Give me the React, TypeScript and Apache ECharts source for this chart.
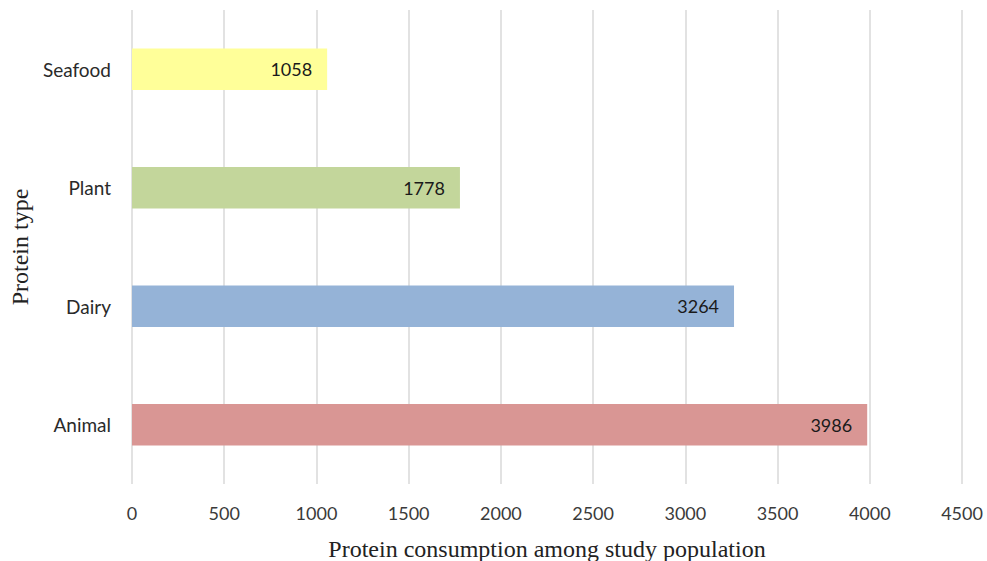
import React, { useEffect, useRef } from "react";
import * as echarts from "echarts";

const categories = ["Animal", "Dairy", "Plant", "Seafood"];
const values = [3986, 3264, 1778, 1058];
const barColors = ["#D99694", "#95B3D7", "#C3D69B", "#FFFF99"];
const xAxisTitle = "Protein consumption among study population";
const yAxisTitle = "Protein type";

export default function App() {
  const ref = useRef<HTMLDivElement>(null);
  useEffect(() => {
    if (!ref.current) return;
    const chart = echarts.init(ref.current, undefined, { renderer: "svg" });
    chart.setOption({
      animation: false,
      backgroundColor: "#ffffff",
      grid: {
        left: 132,
        right: 25,
        top: 10,
        bottom: 77,
        containLabel: false,
        outerBoundsMode: "none",
      },
      xAxis: {
        type: "value",
        min: 0,
        max: 4500,
        interval: 500,
        axisLine: { show: false },
        axisTick: { show: false },
        splitLine: { show: true, lineStyle: { color: "#d9d9d9", width: 1.5 } },
        axisLabel: {
          color: "#3a3a3a",
          fontFamily: "Lato",
          fontSize: 18,
          margin: 20,
          formatter: (v: number) => String(v),
        },
        name: xAxisTitle,
        nameLocation: "middle",
        nameGap: 53,
        nameTextStyle: {
          color: "#222",
          fontFamily: "Liberation Serif",
          fontSize: 24,
        },
      },
      yAxis: {
        type: "category",
        data: categories,
        axisLine: { show: false },
        axisTick: { show: false },
        splitLine: { show: false },
        axisLabel: {
          color: "#2a2a2a",
          fontFamily: "Lato",
          fontSize: 19,
          margin: 21,
        },
        name: yAxisTitle,
        nameLocation: "middle",
        nameGap: 99,
        nameRotate: 90,
        nameTextStyle: {
          color: "#222",
          fontFamily: "Liberation Serif",
          fontSize: 24,
        },
      },
      series: [
        {
          type: "bar",
          barWidth: "35%",
          data: values.map((v, i) => ({
            value: v,
            itemStyle: { color: barColors[i] },
          })),
          label: {
            show: true,
            position: "insideRight",
            distance: 15,
            color: "#1a1a1a",
            fontFamily: "Lato",
            fontSize: 18,
          },
        },
      ],
    });
    return () => chart.dispose();
  }, []);
  return (
    <div
      ref={ref}
      style={{ position: "absolute", left: 0, top: 0, width: 987, height: 561 }}
    />
  );
}
